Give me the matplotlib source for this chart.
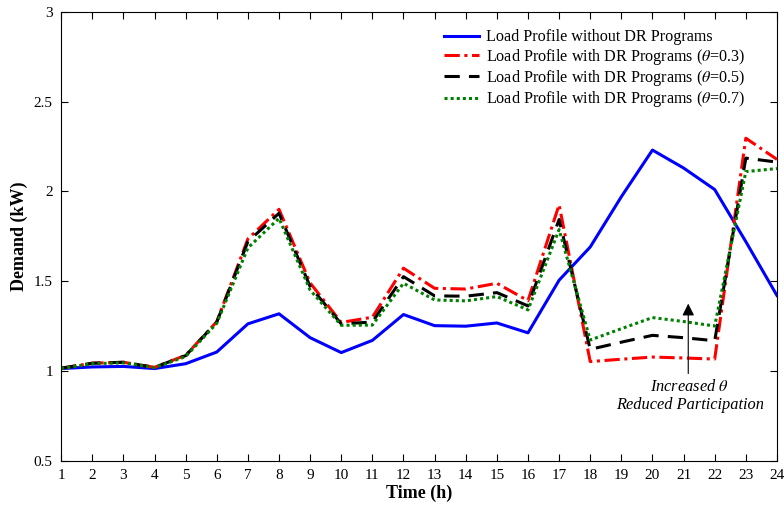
import numpy as np
import matplotlib
matplotlib.use('Agg')
import matplotlib.pyplot as plt

plt.rcParams['font.family'] = ['Liberation Serif', 'DejaVu Serif']
plt.rcParams['mathtext.fontset'] = 'stix'

# hourly demand (kW)
hours = np.arange(1, 25)
no_dr = [1.013, 1.022, 1.025, 1.013, 1.04, 1.105, 1.262, 1.318, 1.185, 1.102,
         1.17, 1.314, 1.252, 1.249, 1.267, 1.212, 1.505, 1.69, 1.97, 2.23,
         2.13, 2.01, 1.72, 1.42]
dr_03 = [1.015, 1.043, 1.048, 1.02, 1.087, 1.274, 1.735, 1.9, 1.49, 1.27,
         1.299, 1.572, 1.46, 1.456, 1.488, 1.391, 1.925, 1.052, 1.065, 1.077,
         1.072, 1.066, 2.296, 2.178]
dr_05 = [1.015, 1.043, 1.048, 1.02, 1.085, 1.272, 1.72, 1.878, 1.47, 1.262,
         1.272, 1.525, 1.418, 1.416, 1.436, 1.362, 1.843, 1.12, 1.16, 1.198,
         1.185, 1.168, 2.185, 2.163]
dr_07 = [1.013, 1.04, 1.045, 1.018, 1.08, 1.265, 1.685, 1.85, 1.45, 1.254,
         1.255, 1.488, 1.395, 1.39, 1.414, 1.34, 1.787, 1.172, 1.235, 1.297,
         1.275, 1.25, 2.11, 2.127]

fig = plt.figure(figsize=(7.84, 5.13), dpi=100)
ax = fig.add_axes([0.078, 0.102, 0.913, 0.875])

ax.plot(hours, no_dr, color='blue', linewidth=2.2, label='Load Profile without DR Programs')
ax.plot(hours, dr_03, color='red', linewidth=2.2, linestyle=(0, (5, 1.5, 1, 1.5)),
        label=r'Load Profile with DR Programs ($\theta$=0.3)')
ax.plot(hours, dr_05, color='black', linewidth=2.2, linestyle=(0, (5, 3)),
        label=r'Load Profile with DR Programs ($\theta$=0.5)')
ax.plot(hours, dr_07, color='green', linewidth=2.2, linestyle=(0, (1, 1)),
        label=r'Load Profile with DR Programs ($\theta$=0.7)')

ax.annotate('', xy=(21.15, 1.39), xytext=(21.15, 0.97),
            arrowprops=dict(arrowstyle='-|>', color='black', lw=0.8, mutation_scale=18))
ax.text(21.2, 0.86, 'Increased $\\theta$\nReduced Participation', ha='center', va='center',
        fontsize=11.8, style='italic', linespacing=1.2)

ax.set_xlim(1, 24)
ax.set_ylim(0.5, 3)
ax.set_xticks(hours)
ax.set_yticks([0.5, 1, 1.5, 2, 2.5, 3])
ax.set_yticklabels(['0.5', '1', '1.5', '2', '2.5', '3'])
ax.tick_params(direction='in', top=True, right=True, labelsize=11, length=5, pad=6)
ax.set_xlabel('Time (h)', fontsize=13, fontweight='bold', labelpad=2)
ax.set_ylabel('Demand (kW)', fontsize=13, fontweight='bold', labelpad=4)

ax.legend(loc='upper right', bbox_to_anchor=(0.975, 0.993), frameon=False, fontsize=11.6,
          handlelength=2.2, handletextpad=0.4, labelspacing=0.08)

fig.savefig('out.png', dpi=100)
